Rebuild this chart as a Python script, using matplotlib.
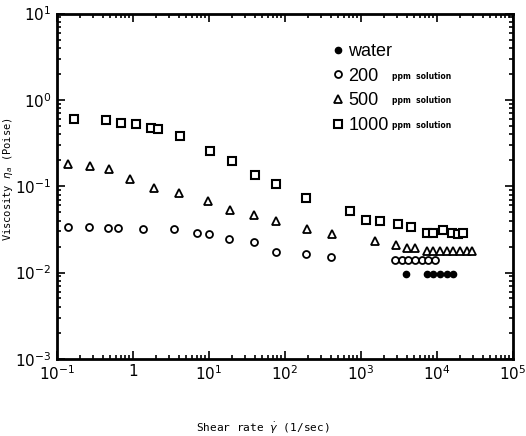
import matplotlib
matplotlib.use("Agg")
import matplotlib.pyplot as plt
from matplotlib.ticker import LogLocator, FixedFormatter, NullFormatter

# data (shear rate in 1/sec, viscosity in Poise)
rate_1000 = [0.17, 0.44, 0.70, 1.09, 1.72, 2.13, 4.15, 10.3, 20, 40, 76, 190, 716,
             1160, 1780, 3070, 4560, 7380, 8850, 12000, 15700, 18900, 22000]
visc_1000 = [0.60, 0.58, 0.54, 0.52, 0.47, 0.455, 0.38, 0.255, 0.195, 0.134, 0.106,
             0.073, 0.051, 0.041, 0.039, 0.036, 0.034, 0.029, 0.029, 0.031, 0.029,
             0.028, 0.029]

rate_500 = [0.14, 0.27, 0.48, 0.91, 1.89, 4.0, 9.7, 18.9, 39, 76, 195, 415, 1520,
            2880, 4030, 5130, 7380, 8850, 10900, 13500, 16200, 20100, 24800, 28900]
visc_500 = [0.18, 0.17, 0.158, 0.121, 0.095, 0.083, 0.067, 0.053, 0.046, 0.040,
            0.032, 0.028, 0.0234, 0.021, 0.0192, 0.0192, 0.0178, 0.0178, 0.0178,
            0.0178, 0.0178, 0.0178, 0.0178, 0.0178]

rate_200 = [0.14, 0.264, 0.47, 0.635, 1.36, 3.47, 6.95, 10, 18.3, 39, 76, 189, 403,
            2800, 3460, 4150, 5130, 6350, 7600, 9350]
visc_200 = [0.0336, 0.0336, 0.033, 0.033, 0.0323, 0.0316, 0.029, 0.028, 0.0246,
            0.0227, 0.0173, 0.0164, 0.0151, 0.014, 0.014, 0.014, 0.014, 0.014,
            0.014, 0.0138]

rate_water = [3900, 7380, 8850, 10900, 13500, 16200]
visc_water = [0.0095, 0.0096, 0.0096, 0.0096, 0.0096, 0.0096]

x_ticks = [1e-1, 1e0, 1e1, 1e2, 1e3, 1e4, 1e5]
x_labels = [r"$10^{-1}$", "1", r"$10^{1}$", r"$10^{2}$", r"$10^{3}$", r"$10^{4}$", r"$10^{5}$"]
y_ticks = [1e-3, 1e-2, 1e-1, 1e0, 1e1]
y_labels = [r"$10^{-3}$", r"$10^{-2}$", r"$10^{-1}$", r"$10^{0}$", r"$10^{1}$"]

fig = plt.figure(figsize=(5.26, 4.36), dpi=100)
ax = fig.add_axes([0.108, 0.177, 0.867, 0.792])

ax.plot(rate_water, visc_water, "o", ms=4.5, color="black", label="water")
ax.plot(rate_200, visc_200, "o", ms=5, mfc="white", mec="black", mew=1.3,
        label="200")
ax.plot(rate_500, visc_500, "^", ms=6, mfc="white", mec="black", mew=1.3,
        label="500")
ax.plot(rate_1000, visc_1000, "s", ms=6, mfc="white", mec="black", mew=1.5,
        label="1000")

ax.set_xscale("log")
ax.set_yscale("log")
ax.set_xlim(1e-1, 1e5)
ax.set_ylim(1e-3, 1e1)

ax.set_xticks(x_ticks)
ax.xaxis.set_major_formatter(FixedFormatter(x_labels))
ax.set_yticks(y_ticks)
ax.yaxis.set_major_formatter(FixedFormatter(y_labels))
ax.xaxis.set_minor_locator(LogLocator(base=10, subs=range(2, 10), numticks=20))
ax.yaxis.set_minor_locator(LogLocator(base=10, subs=range(2, 10), numticks=20))
ax.xaxis.set_minor_formatter(NullFormatter())
ax.yaxis.set_minor_formatter(NullFormatter())

ax.tick_params(which="both", direction="in", top=True, right=True, width=1.2)
ax.tick_params(which="major", length=6, labelsize=11, pad=4)
ax.tick_params(which="minor", length=3)
for s in ax.spines.values():
    s.set_linewidth(2)

ax.set_xlabel(r"Shear rate $\dot{\gamma}$ (1/sec)", family="DejaVu Sans Mono",
              fontsize=8)
ax.xaxis.set_label_coords(0.452, -0.178)
ax.set_ylabel(r"Viscosity $\eta_a$ (Poise)", family="DejaVu Sans Mono",
              fontsize=7.5)
ax.yaxis.set_label_coords(-0.092, 0.52)

leg = ax.legend(loc="upper left", bbox_to_anchor=(0.58, 0.935), frameon=False,
                prop={"family": "Liberation Sans", "size": 13},
                handletextpad=0.1, labelspacing=0.42,
                handlelength=1.0, borderaxespad=0)
fig.canvas.draw()
for t in leg.get_texts()[1:]:
    ax.annotate("ppm  solution", xy=(0.735, 0.5), xycoords=("axes fraction", t),
                va="center", fontsize=5.5, fontweight="bold", zorder=10)

fig.savefig("out.png", dpi=100)
